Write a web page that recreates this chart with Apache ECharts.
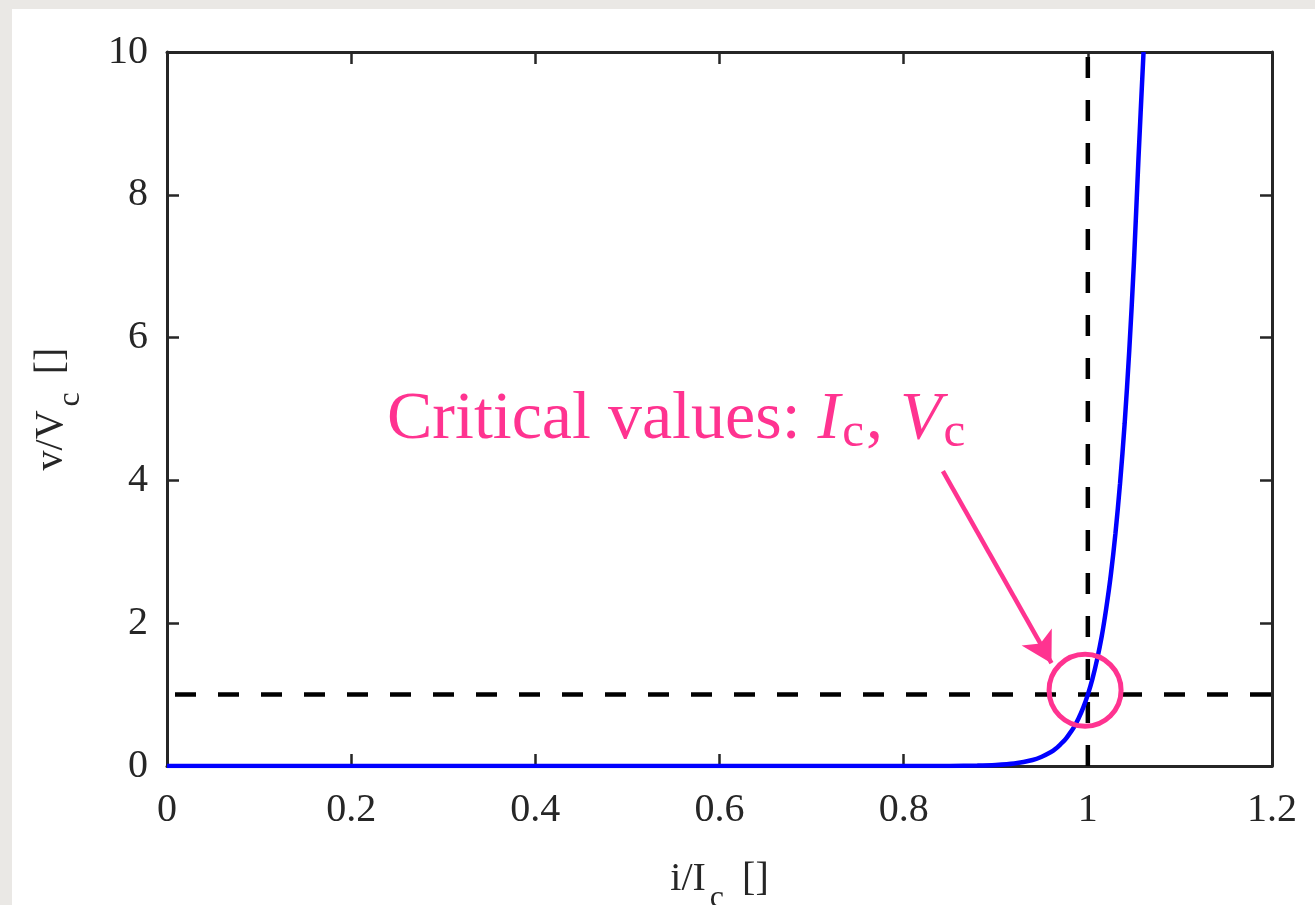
<!DOCTYPE html>
<html>
<head>
<meta charset="utf-8">
<script src="https://cdn.jsdelivr.net/npm/echarts@6/dist/echarts.min.js"></script>
<style>
  html, body { margin: 0; padding: 0; background: #eae8e5; width: 1315px; height: 905px; overflow: hidden; }
  #main { position: absolute; left: 12px; top: 9px; width: 1303px; height: 896px; background: #ffffff; }
</style>
</head>
<body>
<div id="main"></div>
<script>
  // i/Ic and v/Vc
  const currentRatio = [0, 0.5, 0.8, 0.85, 0.88, 0.9, 0.92, 0.94, 0.95, 0.96, 0.965, 0.97, 0.975, 0.98, 0.985, 0.99, 0.995,
    1.0, 1.005, 1.01, 1.015, 1.02, 1.025, 1.03, 1.035, 1.04, 1.045, 1.05, 1.055, 1.0605];
  const voltageRatio = [0, 0, 0.0001, 0.0015, 0.006, 0.015, 0.036, 0.084, 0.13, 0.195, 0.24, 0.30, 0.363, 0.45, 0.546, 0.67, 0.818,
    1.0, 1.22, 1.49, 1.81, 2.21, 2.68, 3.26, 3.96, 4.8, 5.82, 7.04, 8.51, 10];

  const xTicks = [0, 0.2, 0.4, 0.6, 0.8, 1, 1.2];
  const yTicks = [0, 2, 4, 6, 8, 10];

  // critical point, circle, arrow and note (data coords)
  const criticalI = 1;
  const criticalV = 1;
  const circleAt = [0.997, 1.06];
  const arrowFrom = [0.8426, 4.13];
  const arrowTo = [0.9605, 1.44];
  const noteAt = [0.2389, 4.32];

  const pink = '#ff3390';
  const serif = '"Liberation Serif", "Times New Roman", serif';

  let myChart = echarts.init(document.getElementById('main'));

  let data = currentRatio.map((x, i) => [x, voltageRatio[i]]);

  let frameAxis = {
    min: xTicks[0],
    max: xTicks[xTicks.length - 1],
    interval: 0.2,
    axisLine: { show: true, onZero: false, lineStyle: { color: '#262626', width: 3 } },
    axisTick: { show: true, inside: true, length: 12, lineStyle: { color: '#262626', width: 2.5 } },
    splitLine: { show: false }
  };

  let option = {
    animation: false,
    grid: { left: 155, right: 43, top: 43, bottom: 139, containLabel: false, outerBoundsMode: 'none' },
    xAxis: [
      Object.assign({}, frameAxis, {
        type: 'value',
        position: 'bottom',
        name: '{n|i/I}{s|c}{n| []}',
        nameLocation: 'middle',
        nameGap: 77,
        nameTextStyle: {
          rich: {
            n: { fontFamily: serif, fontSize: 40, color: '#262626' },
            s: { fontFamily: serif, fontSize: 32, color: '#262626', padding: [40, 8, 0, 4] }
          }
        },
        axisLabel: { margin: 24, fontFamily: serif, fontSize: 40, color: '#262626',
          formatter: v => String(Math.round(v * 10) / 10) }
      }),
      Object.assign({}, frameAxis, {
        type: 'value',
        position: 'top',
        axisLabel: { show: false }
      })
    ],
    yAxis: [
      {
        type: 'value',
        position: 'left',
        min: yTicks[0],
        max: yTicks[yTicks.length - 1],
        interval: 2,
        name: '{n|v/V}{s|c}{n| []}',
        nameLocation: 'middle',
        nameRotate: 90,
        nameGap: 80,
        nameTextStyle: {
          rich: {
            n: { fontFamily: serif, fontSize: 40, color: '#262626' },
            s: { fontFamily: serif, fontSize: 32, color: '#262626', padding: [40, 8, 0, 4] }
          }
        },
        axisLine: { show: true, onZero: false, lineStyle: { color: '#262626', width: 3 } },
        axisTick: { show: true, inside: true, length: 12, lineStyle: { color: '#262626', width: 2.5 } },
        axisLabel: { margin: 19, fontFamily: serif, fontSize: 40, color: '#262626' },
        splitLine: { show: false }
      },
      {
        type: 'value',
        position: 'right',
        min: yTicks[0],
        max: yTicks[yTicks.length - 1],
        interval: 2,
        axisLine: { show: true, onZero: false, lineStyle: { color: '#262626', width: 3 } },
        axisTick: { show: true, inside: true, length: 12, lineStyle: { color: '#262626', width: 2.5 } },
        axisLabel: { show: false },
        splitLine: { show: false }
      }
    ],
    series: [
      {
        name: 'critical current',
        type: 'line',
        data: [[criticalI, yTicks[0]], [criticalI, yTicks[yTicks.length - 1]]],
        symbol: 'none',
        lineStyle: { color: '#000', width: 4.5, type: [21, 22] },
        z: 2
      },
      {
        name: 'critical voltage',
        type: 'line',
        data: [[xTicks[0], criticalV], [xTicks[xTicks.length - 1], criticalV]],
        symbol: 'none',
        lineStyle: { color: '#000', width: 4.5, type: [21, 22], dashOffset: -8 },
        z: 2
      },
      {
        name: 'v-i curve',
        type: 'line',
        data: data,
        smooth: 0.3,
        symbol: 'none',
        clip: true,
        lineStyle: { color: '#0000ff', width: 4.5 },
        z: 3
      },
      {
        name: 'marker',
        type: 'scatter',
        data: [circleAt],
        symbol: 'circle',
        symbolSize: 72,
        itemStyle: { color: 'rgba(0,0,0,0)', borderColor: pink, borderWidth: 5, opacity: 1 },
        silent: true,
        z: 4,
        markLine: {
          silent: true,
          symbol: ['none', 'arrow'],
          symbolSize: [26, 30],
          label: { show: false },
          lineStyle: { color: pink, width: 4.5, type: 'solid', opacity: 1 },
          data: [[{ coord: arrowFrom }, { coord: arrowTo }]]
        }
      }
    ]
  };

  myChart.setOption(option);

  let p = myChart.convertToPixel({ xAxisIndex: 0, yAxisIndex: 0 }, noteAt);
  myChart.setOption({
    graphic: [{
      type: 'text',
      x: p[0],
      y: p[1],
      z: 10,
      style: {
        text: '{a|Critical values: }{i|I}{s|c}{a|, }{i|V}{s|c}',
        verticalAlign: 'bottom',
        rich: {
          a: { fontFamily: serif, fontSize: 68, fill: pink },
          i: { fontFamily: serif, fontSize: 68, fontStyle: 'italic', fill: pink },
          s: { fontFamily: serif, fontSize: 49, fill: pink, padding: [26, 2, 0, 2] }
        }
      }
    }]
  });
</script>
</body>
</html>
